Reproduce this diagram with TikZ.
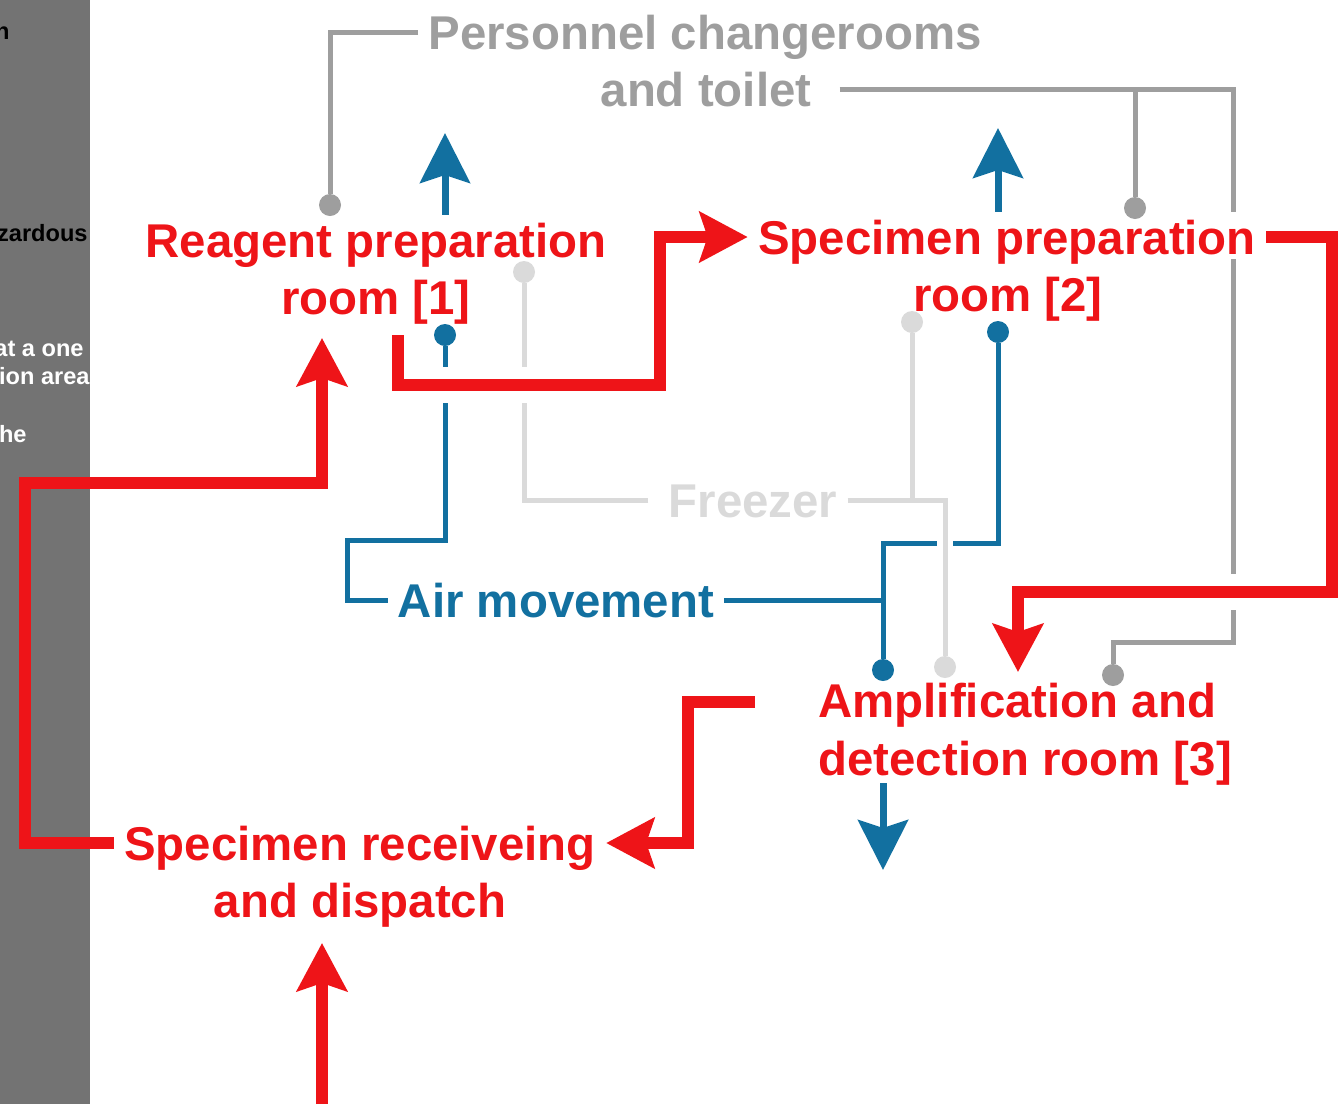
\documentclass[tikz,border=0pt]{standalone}
\usepackage{fontspec}
\setmainfont{Liberation Sans}
\usetikzlibrary{arrows.meta}
\definecolor{flowred}{RGB}{238,20,24}
\definecolor{airblue}{RGB}{18,112,160}
\definecolor{staffgray}{RGB}{158,158,158}
\definecolor{coldgray}{RGB}{218,218,218}
\definecolor{sidegray}{RGB}{115,115,115}

\begin{document}
\begin{tikzpicture}[x=0.5pt,y=-0.5pt,
  lbl/.style={font=\bfseries\fontsize{23.7}{28}\selectfont,inner xsep=5pt,inner ysep=4pt,
    text height=17pt,text depth=0pt,anchor=base},
  room/.style={lbl,text=flowred},
  side/.style={font=\bfseries\fontsize{11.8}{14}\selectfont,inner sep=0pt,anchor=base east},
  dot/.style={circle,fill,inner sep=0pt,minimum size=11pt},
  flow/.style={draw=flowred,line width=6pt,-{Stealth[length=24pt,width=25pt,inset=4pt]}},
  bridge/.style={preaction={draw=white,line width=18pt,arrows=-}},
  air/.style={draw=airblue,line width=2.5pt},
  vent/.style={draw=airblue,line width=3.5pt,-{Stealth[length=25pt,width=25pt,inset=4pt]}},
  staff/.style={draw=staffgray,line width=2.5pt},
  cold/.style={draw=coldgray,line width=2.5pt}]
  \useasboundingbox (0,0) rectangle (1343,1104);
  % side panel (cut off)
  \fill[sidegray] (0,0) rectangle (90,1104);
  \begin{scope}
    \clip (0,0) rectangle (90,1104);
    \node[side,text=black] (s1) at (10,39) {n};
    \node[side,text=black] (s2) at (88,241) {zardous};
    \node[side,text=white] (s3) at (84,356) {at a one};
    \node[side,text=white] (s4) at (90,384) {ion area};
    \node[side,text=white] (s5) at (27,442) {he};
  \end{scope}
  % rooms
  \node[lbl,text=staffgray] (changerooms) at (705,49) {Personnel changerooms};
  \node[lbl,text=staffgray] (toilet) at (706,106) {and toilet};
  \node[room] (reagent) at (376,257) {Reagent preparation};
  \node[room] (reagentroom) at (376,314) {room [1]};
  \node[room] (specimen) at (1007,254) {Specimen preparation};
  \node[room] (specimenroom) at (1008,311) {room [2]};
  \node[room,anchor=base west] (amplification) at (808,717) {Amplification and};
  \node[room,anchor=base west] (detection) at (808,775) {detection room [3]};
  \node[room] (receiving) at (360,860) {Specimen receiveing};
  \node[room] (dispatch) at (360,917) {and dispatch};
  \node[lbl,text=coldgray] (freezer) at (753,517) {Freezer};
  \node[lbl,text=airblue] (air) at (556,617) {Air movement};
  % end dots
  \node[dot,staffgray] (gdot1) at (330,205) {};
  \node[dot,staffgray] (gdot2) at (1135,208) {};
  \node[dot,staffgray] (gdot3) at (1113,675) {};
  \node[dot,coldgray] (ldot1) at (524,272) {};
  \node[dot,coldgray] (ldot2) at (945,667) {};
  \node[dot,coldgray] (ldot3) at (912,322) {};
  \node[dot,airblue] (bdot1) at (445,335) {};
  \node[dot,airblue] (bdot2) at (998,332) {};
  \node[dot,airblue] (bdot3) at (883,670) {};
  % bends and free ends
  \coordinate (riserA) at (1233,212);
  \coordinate (riserB) at (1233,259);
  \coordinate (riserC) at (1233,642);
  \coordinate (ductA) at (347,540);
  \coordinate (ductB) at (883,543);
  \coordinate (vent1) at (445,133);
  \coordinate (vent2) at (998,128);
  \coordinate (vent3) at (883,870);
  \coordinate (loopA) at (25,483);
  \coordinate (in1) at (322,338);
  \coordinate (out1) at (398,335);
  \coordinate (hall1) at (660,385);
  \coordinate (hall2) at (1332,592);
  \coordinate (in3) at (1018,672);
  \coordinate (out3) at (755,702);
  \coordinate (hall3) at (688,843);
  \coordinate (entry) at (322,1104);
  \coordinate (in5) at (322,943);
  % air movement
  \draw[air] (air.west) -| (ductA) -| (bdot1);
  \draw[air] (bdot2) |- (ductB) -- (bdot3);
  \draw[air] (air.east) -- (air.east -| ductB);
  \draw[vent] (reagent.north -| vent1) -- (vent1);
  \draw[vent] (specimen.north -| vent2) -- (vent2);
  \draw[vent] (detection.south -| vent3) -- (vent3);
  % freezer
  \draw[cold,shorten <=5pt] (freezer.west) -| (ldot1);
  \draw[cold,preaction={draw=white,line width=8pt}] (freezer.east) -| (ldot2);
  \draw[cold] (freezer.east -| ldot3) -- (ldot3);
  % personnel
  \draw[staff] (changerooms.west) -| (gdot1);
  \draw[staff,shorten <=9pt] (toilet.east) -| (riserA);
  \draw[staff] (toilet.east -| gdot2) -- (gdot2);
  \draw[staff] (riserB) -- (riserC) -| (gdot3);
  % specimen flow
  \draw[flow] (entry) -- (in5);
  \draw[flow] (receiving.west) -| (loopA) -| (in1);
  \draw[flow,bridge] (out1) |- (hall1) |- (specimen.west);
  \draw[flow,bridge] (specimen.east) -| (hall2) -| (in3);
  \draw[flow] (out3) -| (hall3) -- (receiving.east);
\end{tikzpicture}
\end{document}
